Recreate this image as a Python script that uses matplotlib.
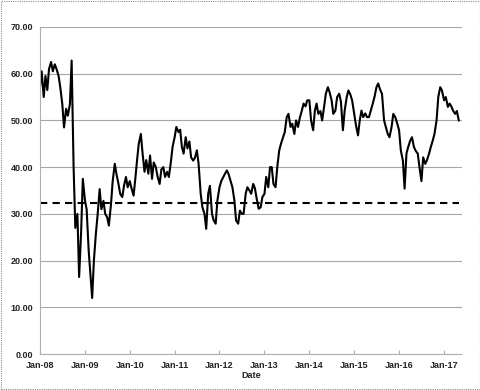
import matplotlib.pyplot as plt
import matplotlib.dates as mdates
import pandas as pd
from matplotlib.patches import Rectangle

# semi-monthly readings (1st and 15th of each month), Jan 2008 -> May 2017
values = [
    57.0, 60.5, 55.0, 59.5, 56.5, 61.0, 62.5, 60.5, 62.0, 61.0, 59.5, 57.0,   # 2008 H1
    53.5, 48.5, 52.5, 51.0, 53.5, 62.8, 40.0, 27.0, 30.0, 16.5, 26.0, 37.5,   # 2008 H2
    33.0, 31.0, 22.0, 17.0, 12.0, 20.0, 26.0, 30.0, 35.3, 31.0, 32.8, 30.0,   # 2009 H1
    29.3, 27.5, 32.0, 37.0, 40.7, 38.5, 36.4, 34.3, 33.6, 36.0, 37.9, 35.7,   # 2009 H2
    37.0, 35.5, 33.9, 37.5, 41.4, 45.0, 47.1, 43.0, 39.0, 41.5, 38.6, 42.5,   # 2010 H1
    37.5, 41.0, 40.0, 38.0, 36.4, 39.5, 40.0, 37.9, 39.0, 37.9, 41.0, 44.3,   # 2010 H2
    46.4, 48.6, 47.5, 48.0, 44.3, 42.9, 46.4, 44.0, 45.5, 42.1, 41.4, 42.0,   # 2011 H1
    43.6, 40.7, 34.3, 31.4, 30.0, 26.8, 34.3, 36.0, 30.0, 28.6, 27.9, 32.9,   # 2011 H2
    35.7, 37.0, 37.9, 38.6, 39.3, 38.5, 37.0, 35.7, 32.9, 28.6, 27.9, 30.7,   # 2012 H1
    30.0, 30.0, 34.3, 35.7, 35.0, 34.3, 36.4, 35.5, 32.9, 31.1, 31.4, 33.6,   # 2012 H2
    34.3, 37.9, 35.7, 40.0, 40.0, 36.4, 35.7, 40.0, 43.6, 45.0, 46.4, 47.5,   # 2013 H1
    50.7, 51.4, 48.6, 49.3, 47.1, 50.0, 48.6, 50.5, 52.1, 53.6, 53.0, 54.3,   # 2013 H2
    54.3, 50.0, 47.9, 52.1, 53.6, 51.4, 52.0, 50.0, 52.9, 55.7, 57.1, 56.0,   # 2014 H1
    54.3, 51.4, 52.1, 55.0, 55.7, 54.0, 47.9, 52.0, 55.0, 56.4, 55.5, 54.3,   # 2014 H2
    51.4, 49.0, 46.8, 50.0, 52.1, 50.7, 51.5, 50.7, 50.7, 52.0, 53.6, 55.0,   # 2015 H1
    57.1, 57.9, 56.5, 55.7, 50.0, 48.6, 47.1, 46.4, 48.6, 51.4, 50.7, 49.5,   # 2015 H2
    47.9, 43.6, 41.4, 35.4, 42.9, 44.3, 45.7, 46.4, 44.3, 43.5, 42.9, 40.0,   # 2016 H1
    37.0, 42.1, 40.7, 41.5, 42.9, 44.3, 45.7, 47.1, 50.0, 55.0, 57.1, 56.4,   # 2016 H2
    54.3, 55.0, 52.9, 53.6, 53.0, 52.1, 51.4, 52.0, 50.0,                     # 2017
]
threshold = 32.4
y_ticks = [0, 10, 20, 30, 40, 50, 60, 70]

dates = pd.date_range('2008-01-01', periods=len(values), freq='SMS')

fig = plt.figure(figsize=(4.81, 3.90), dpi=100)
ax = fig.add_axes([0.083, 0.092, 0.877, 0.839])

ax.plot(dates, values, color='black', lw=1.5)
ax.plot([dates[0], dates[-1]], [threshold, threshold], color='black', lw=1.5,
        dashes=(3.5, 2.5))

ax.set_ylim(0, 70)
ax.set_xlim(pd.Timestamp('2008-01-01'), pd.Timestamp('2017-05-25'))
ax.set_yticks(y_ticks)
ax.set_yticklabels(['%.2f' % v for v in y_ticks])
ax.yaxis.grid(True, color='#a6a6a6', lw=0.8)
ax.set_axisbelow(True)

ax.xaxis.set_major_locator(mdates.YearLocator())
ax.xaxis.set_major_formatter(mdates.DateFormatter('%b-%y'))

for s in ['top', 'right']:
    ax.spines[s].set_visible(False)
for s in ['left', 'bottom']:
    ax.spines[s].set_color('#b0b0b0')
    ax.spines[s].set_linestyle((0, (1, 1)))
    ax.spines[s].set_linewidth(0.8)

ax.tick_params(axis='y', length=0, pad=5)
ax.tick_params(axis='x', direction='in', length=3, color='#b0b0b0', pad=5)
for lab in ax.get_xticklabels() + ax.get_yticklabels():
    lab.set_fontfamily('Liberation Sans')
    lab.set_fontsize(6.5)
    lab.set_fontweight('bold')
    lab.set_color('#222222')

ax.set_xlabel('Date', fontsize=6.5, fontweight='bold', family='Liberation Sans',
              color='#222222', labelpad=1)

fig.patches.append(Rectangle((0.002, 0.002), 0.995, 0.995, transform=fig.transFigure,
                             fill=False, ec='#909090', lw=0.8, ls=(0, (1, 1))))

fig.savefig('out.png', dpi=100)
